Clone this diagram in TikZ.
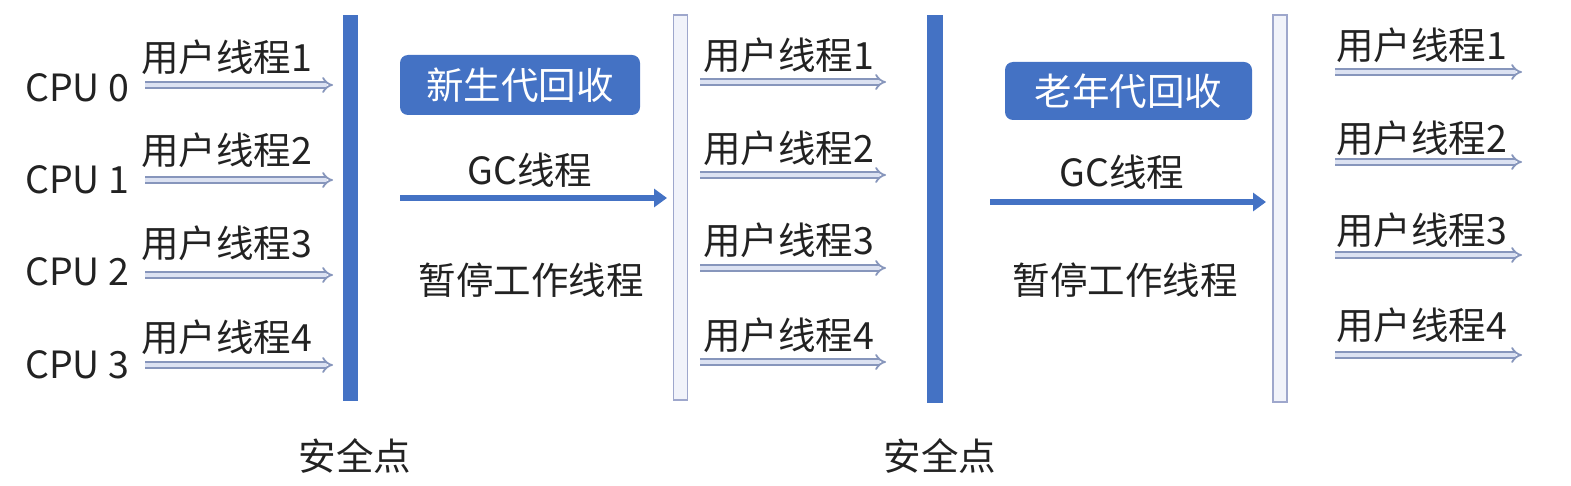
\documentclass[tikz,border=0pt]{standalone}
\usepackage{fontspec}
\setmainfont{Noto Sans CJK SC}
\usetikzlibrary{arrows.meta}
\definecolor{barblue}{HTML}{4472C4}
\definecolor{thrline}{HTML}{8796BC}
\definecolor{thrfill}{HTML}{DCE2F2}
\definecolor{lightbar}{HTML}{9EA7CC}
\definecolor{lightfill}{HTML}{F1F3FA}
\definecolor{txt}{HTML}{222222}
\tikzset{
  lbl/.style={font=\fontsize{37.5}{42}\selectfont, text=txt, inner sep=0pt},
  thr/.style={draw=thrline, double=thrfill, double distance=3.5pt, line width=1.8pt, -{Implies[length=8pt]}},
  darkbar/.style={draw=barblue, fill=barblue, inner sep=0pt},
  litebar/.style={draw=lightbar, fill=lightfill, line width=1.5pt, inner sep=0pt},
  phase/.style={fill=barblue, rounded corners=8pt, text=white, font=\fontsize{37.5}{42}\selectfont, inner sep=0pt},
  gcarrow/.style={draw=barblue, line width=6pt, -{Triangle[length=13pt,width=18pt]}},
}
\begin{document}
\begin{tikzpicture}[x=1pt,y=-1pt]
\useasboundingbox (0,0) rectangle (1571,486);
% bars
\node[darkbar, minimum width=14pt, minimum height=385pt] (b1) at (350,207.5) {};
\node[litebar, minimum width=14pt, minimum height=385pt] (b2) at (680.5,207.5) {};
\node[darkbar, minimum width=15pt, minimum height=387pt] (b3) at (934.5,208.5) {};
\node[litebar, minimum width=14pt, minimum height=387pt] (b4) at (1280,208.5) {};
% CPU labels
\node[lbl, anchor=west] (c0) at (25,88) {CPU 0};
\node[lbl, anchor=west] (c1) at (25,180) {CPU 1};
\node[lbl, anchor=west] (c2) at (25,272) {CPU 2};
\node[lbl, anchor=west] (c3) at (25,365) {CPU 3};
% left threads
\foreach \i/\ly/\ay in {1/57/85, 2/150/180, 3/243/275, 4/337/365}{
  \node[lbl, anchor=west] (l\i) at (141,\ly) {用户线程\i};
  \coordinate (la\i) at (145,\ay);
  \coordinate (lb\i) at (333,\ay);
  \draw[thr] (la\i) -- (lb\i);
}
% middle threads
\foreach \i/\ly/\ay in {1/55/82, 2/148/175, 3/240/268, 4/335/362}{
  \node[lbl, anchor=west] (m\i) at (703,\ly) {用户线程\i};
  \coordinate (ma\i) at (700,\ay);
  \coordinate (mb\i) at (886,\ay);
  \draw[thr] (ma\i) -- (mb\i);
}
% right threads
\foreach \i/\ly/\ay in {1/45/72, 2/138/162, 3/230/255, 4/325/355}{
  \node[lbl, anchor=west] (r\i) at (1336,\ly) {用户线程\i};
  \coordinate (ra\i) at (1335,\ay);
  \coordinate (rb\i) at (1522,\ay);
  \draw[thr] (ra\i) -- (rb\i);
}
% phase boxes
\node[phase, minimum width=240pt, minimum height=60pt] (p1) at (520,85) {新生代回收};
\node[phase, minimum width=247pt, minimum height=58pt] (p2) at (1128.5,91) {老年代回收};
% GC threads
\node[lbl] (g1) at (530,170) {GC线程};
\coordinate (g1a) at (400,198);
\coordinate (g1b) at (667,198);
\draw[gcarrow] (g1a) -- (g1b);
\node[lbl] (g2) at (1122,172) {GC线程};
\coordinate (g2a) at (990,202);
\coordinate (g2b) at (1266,202);
\draw[gcarrow] (g2a) -- (g2b);
% pause
\node[lbl] (s1) at (531,280) {暂停工作线程};
\node[lbl] (s2) at (1125,280) {暂停工作线程};
% safepoints
\node[lbl] (sp1) at (355,456) {安全点};
\node[lbl] (sp2) at (940,456) {安全点};
\end{tikzpicture}
\end{document}
